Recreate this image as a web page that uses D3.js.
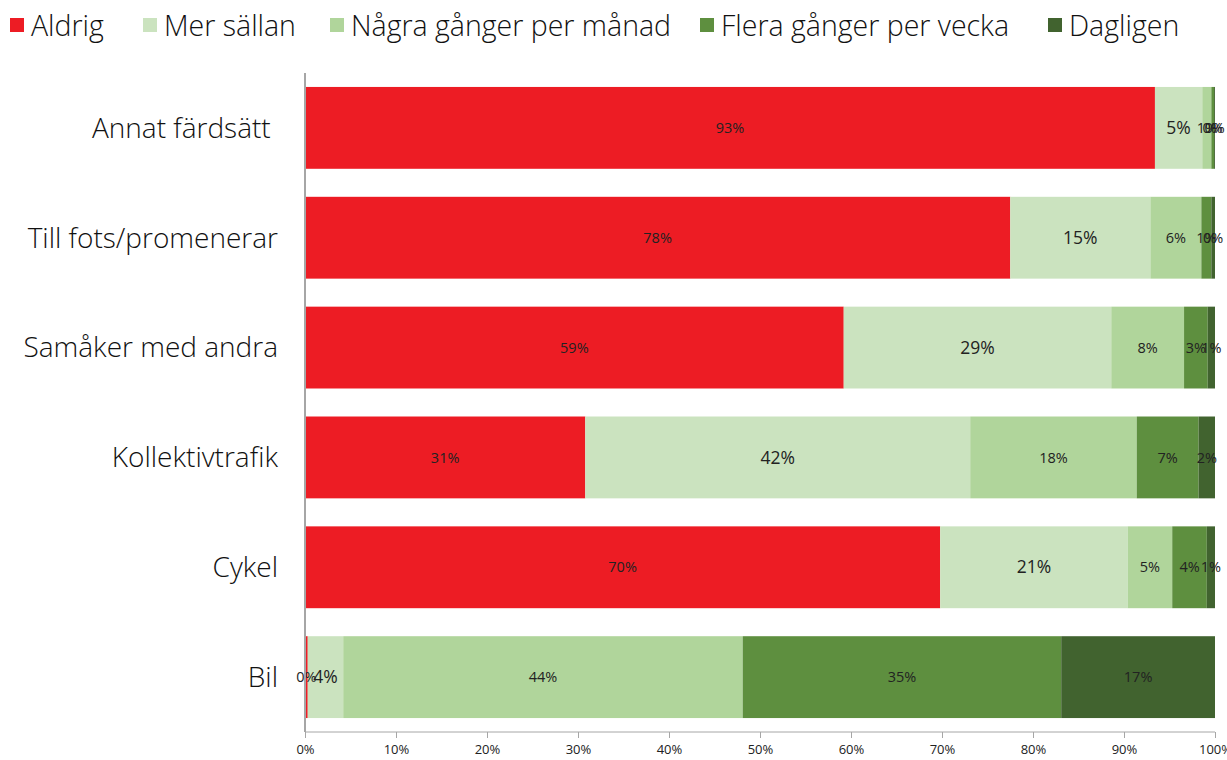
<!DOCTYPE html>
<html>
<head>
<meta charset="utf-8">
<script src="https://cdn.jsdelivr.net/npm/d3@7"></script>
<style>
  body { margin: 0; background: #fff; }
  svg { display: block; }
</style>
</head>
<body>
<div id="chart"></div>
<script>
var categories = ["Annat färdsätt ", "Till fots/promenerar", "Samåker med andra", "Kollektivtrafik", "Cykel", "Bil"];
var seriesNames = ["Aldrig", "Mer sällan", "Några gånger per månad", "Flera gånger per vecka", "Dagligen"];
var seriesColors = ["#ed1c24", "#cbe3bf", "#b0d59b", "#5e8f3f", "#41632f"];

var aldrig      = [93.4, 77.5, 59.2, 30.8, 69.8, 0.3];
var merSallan   = [5.2, 15.4, 29.4, 42.3, 20.6, 3.9];
var nagraGanger = [1.0, 5.6, 8.0, 18.3, 4.9, 43.9];
var fleraGanger = [0.3, 1.1, 2.6, 6.8, 3.8, 35.0];
var dagligen    = [0.1, 0.4, 0.8, 1.8, 0.9, 16.9];

var tickValues = [0, 10, 20, 30, 40, 50, 60, 70, 80, 90, 100];

var W = 1227, H = 760;
var svg = d3.select("#chart").append("svg").attr("width", W).attr("height", H);

var series = [aldrig, merSallan, nagraGanger, fleraGanger, dagligen];

var rows = categories.map(function (c, i) {
    var row = { cat: c };
    seriesNames.forEach(function (s, j) { row[s] = series[j][i]; });
    return row;
});

var stack = d3.stack().keys(seriesNames)(rows);

var x = d3.scaleLinear().domain([0, 100]).range([305, 1215]);
var y = d3.scaleBand().domain(categories).range([73, 732]).paddingInner(0.255).paddingOuter(0.127);

var labelFont = "'Open Sans', 'Noto Sans', sans-serif";
var titleFont = "'Open Sans', Roboto, sans-serif";

// bars
svg.append("g").selectAll("g")
    .data(stack)
    .enter().append("g")
    .attr("fill", function (d, i) { return seriesColors[i]; })
    .selectAll("rect")
    .data(function (d) { return d; })
    .enter().append("rect")
    .attr("x", function (d) { return x(d[0]); })
    .attr("y", function (d) { return y(d.data.cat); })
    .attr("width", function (d) { return x(d[1]) - x(d[0]); })
    .attr("height", y.bandwidth());

// data labels on top of all bars (Mer sällan labels are larger in the original)
svg.append("g").selectAll("g")
    .data(stack)
    .enter().append("g")
    .each(function (s, i) {
        d3.select(this).selectAll("text")
            .data(s)
            .enter().append("text")
            .attr("x", function (d) { return (x(d[0]) + x(d[1])) / 2; })
            .attr("y", function (d) { return y(d.data.cat) + y.bandwidth() / 2; })
            .attr("dy", "0.35em")
            .attr("text-anchor", "middle")
            .attr("fill", "#222")
            .style("font-family", labelFont)
            .style("font-size", i === 1 ? "17.5px" : "14.5px")
            .text(function (d) { return Math.round(d[1] - d[0]) + "%"; });
    });

// axes
var xAxis = svg.append("g")
    .attr("transform", "translate(0,732)")
    .call(d3.axisBottom(x).tickValues(tickValues).tickSize(6).tickFormat(function (d) { return d + "%"; }));
xAxis.select(".domain").attr("stroke", "#a6a6a6").attr("d", "M305,0H1215");
xAxis.selectAll(".tick line").attr("stroke", "#a6a6a6");
xAxis.selectAll(".tick text")
    .attr("fill", "#222")
    .attr("y", 13)
    .style("font-family", labelFont)
    .style("font-size", "13px");

svg.append("line")
    .attr("x1", 305).attr("x2", 305)
    .attr("y1", 73).attr("y2", 732)
    .attr("stroke", "#a6a6a6").attr("stroke-width", 2);

// category labels
svg.selectAll(".cat")
    .data(categories)
    .enter().append("text")
    .attr("x", 278)
    .attr("y", function (d) { return y(d) + y.bandwidth() / 2; })
    .attr("dy", "0.35em")
    .attr("text-anchor", "end")
    .attr("fill", "#111")
    .style("font-family", titleFont)
    .style("font-weight", 300)
    .style("font-size", "28px")
    .style("white-space", "pre")
    .text(function (d) { return d; });

// legend
var legendX = [10, 143, 330, 700, 1048];
var legend = svg.selectAll(".leg")
    .data(seriesNames)
    .enter().append("g")
    .attr("transform", function (d, i) { return "translate(" + legendX[i] + ",0)"; });
legend.append("rect")
    .attr("x", 0).attr("y", 18)
    .attr("width", 14).attr("height", 14)
    .attr("fill", function (d, i) { return seriesColors[i]; });
legend.append("text")
    .attr("x", 21).attr("y", 36)
    .attr("fill", "#111")
    .style("font-family", titleFont)
    .style("font-weight", 300)
    .style("font-size", "28.5px")
    .text(function (d) { return d; });
</script>
</body>
</html>
